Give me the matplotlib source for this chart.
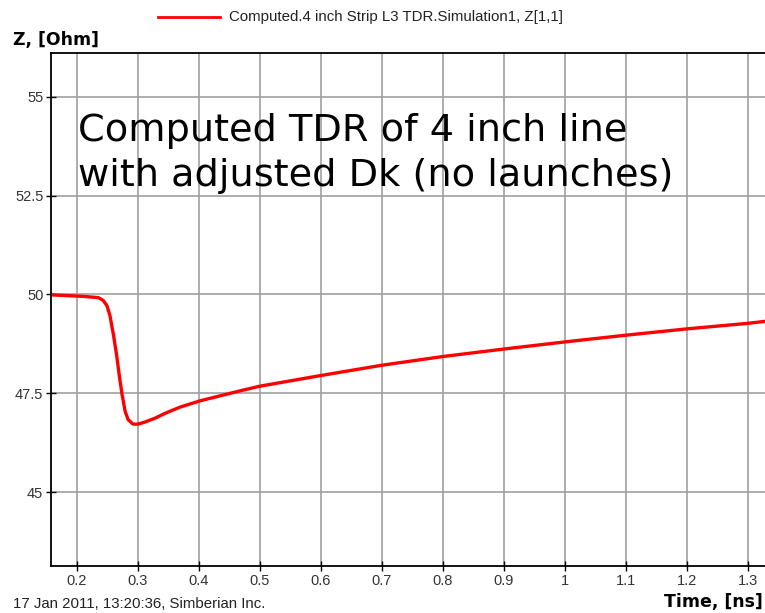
import matplotlib.pyplot as plt

# TDR curve values
time_ns = [0.157, 0.200, 0.213, 0.235, 0.243, 0.249, 0.254, 0.260, 0.265, 0.270,
           0.274, 0.279, 0.284, 0.292, 0.300, 0.311, 0.328, 0.344, 0.369, 0.402,
           0.467, 0.5, 0.6, 0.7, 0.8, 0.9, 1.0, 1.1, 1.2, 1.3, 1.328]
z_ohm = [49.99, 49.96, 49.95, 49.92, 49.85, 49.72, 49.47, 48.96, 48.46, 47.88,
         47.46, 47.04, 46.83, 46.72, 46.72, 46.77, 46.87, 46.99, 47.15, 47.31,
         47.56, 47.68, 47.95, 48.21, 48.43, 48.62, 48.80, 48.97, 49.13, 49.27, 49.32]
x_ticks = [0.2, 0.3, 0.4, 0.5, 0.6, 0.7, 0.8, 0.9, 1.0, 1.1, 1.2, 1.3]
x_labels = ['0.2', '0.3', '0.4', '0.5', '0.6', '0.7', '0.8', '0.9', '1', '1.1', '1.2', '1.3']
y_ticks = [45, 47.5, 50, 52.5, 55]
y_labels = ['45', '47.5', '50', '52.5', '55']

fig = plt.figure(figsize=(7.65, 6.13), dpi=100)
ax = fig.add_axes([51 / 765, 47 / 613, 714 / 765, 513 / 613])

ax.plot(time_ns, z_ohm, color='#ff0000', lw=2.4, solid_joinstyle='round')
ax.set_xlim(0.1574, 1.328)
ax.set_ylim(43.13, 56.11)

ax.set_xticks(x_ticks, x_labels)
ax.set_yticks(y_ticks, y_labels)
ax.tick_params(direction='inout', length=7, width=1, color='black', pad=2)
for lbl in ax.get_xticklabels() + ax.get_yticklabels():
    lbl.set_family('Liberation Sans')
    lbl.set_fontsize(10.5)
    lbl.set_color('#333333')
ax.grid(True, color='#a0a0a0', lw=1.2)
ax.set_axisbelow(True)
for side in ['left', 'bottom', 'top']:
    ax.spines[side].set_linewidth(1.3)
ax.spines['right'].set_visible(False)

# annotation block inside the plot
ax.text(0.2016, 54.58,
        'Computed TDR of 4 inch line\nwith adjusted Dk (no launches)',
        fontsize=27.5, family='DejaVu Sans', va='top', ha='left',
        linespacing=1.3, zorder=1)

# legend drawn above the plot
fig.add_artist(plt.Line2D([158 / 765, 220 / 765], [1 - 17 / 613, 1 - 17 / 613],
                          color='#ff0000', lw=2))
fig.text(229 / 765, 1 - 17 / 613, 'Computed.4 inch Strip L3 TDR.Simulation1, Z[1,1]',
         fontsize=10.8, family='Liberation Sans', color='#222222', va='center', ha='left')

fig.text(13 / 765, 1 - 40 / 613, 'Z, [Ohm]', fontsize=12.5, fontweight='bold',
         family='DejaVu Sans', va='center', ha='left')
fig.text(763 / 765, 1 - 602 / 613, 'Time, [ns]', fontsize=12.5, fontweight='bold',
         family='DejaVu Sans', va='center', ha='right')
fig.text(13 / 765, 1 - 604 / 613, '17 Jan 2011, 13:20:36, Simberian Inc.',
         fontsize=10.8, family='Liberation Sans', color='#222222', va='center', ha='left')

fig.savefig('out.png', dpi=100)
